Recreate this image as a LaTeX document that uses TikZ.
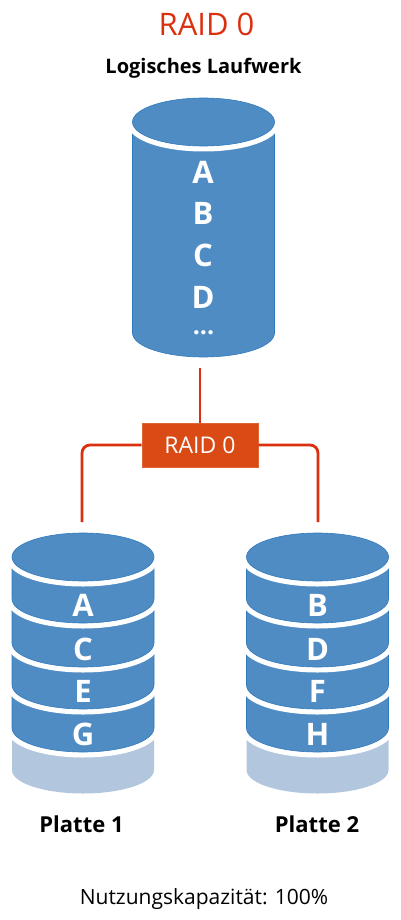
\documentclass[tikz,border=0pt]{standalone}
\usepackage{fontspec}
\setmainfont{Open Sans}
\usetikzlibrary{positioning}
\definecolor{drumblue}{HTML}{4F8CC4}
\definecolor{drumedge}{HTML}{2F7ABD}
\definecolor{sparegray}{HTML}{B2C7DE}
\definecolor{raidred}{HTML}{DB3010}
\definecolor{raidbox}{HTML}{D94A14}
\tikzset{
  drumseg/.style={
    fill=drumblue,
    draw=drumedge,
    line width=0.6pt,
    preaction={draw=white,line width=11pt}
  },
  sparebase/.style={
    fill=sparegray
  },
  drumletter/.style={
    text=white,
    inner sep=0pt,
    font=\fontsize{31}{31}\selectfont\bfseries
  },
  raidbox/.style={
    fill=raidbox,
    draw=raidbox!85!white,
    line width=0.6pt,
    minimum width=116pt,
    minimum height=44pt,
    inner sep=0pt,
    text=white,
    font=\fontsize{23}{23}\selectfont
  },
  raidline/.style={
    draw=raidred,
    line width=2.8pt,
    rounded corners=8pt
  },
  drumlabel/.style={
    inner sep=0pt,
    font=\fontsize{22}{22}\selectfont\bfseries
  }
}
% one band of a drum: centre x, y of the upper side end, y of the lower side end
\newcommand{\drumband}[3]{
  \path[drumseg] (#1-71,#2) -- (#1-71,#3) arc[start angle=180,end angle=0,x radius=71,y radius=24] -- (#1+71,#2) -- cycle;
}
% lid of a drum: centre x, centre y
\newcommand{\drumlid}[2]{
  \path[drumseg] (#1,#2) ellipse[x radius=71,y radius=24];
}
% full four band disk with its grey rest
\newcommand{\fourdrum}[1]{
  \path[sparebase] (#1-71,725) -- (#1-71,770) arc[start angle=180,end angle=0,x radius=71,y radius=23.5] -- (#1+71,725) -- cycle;
  \drumband{#1}{680}{728}
  \drumband{#1}{640}{685}
  \drumband{#1}{600}{643}
  \drumband{#1}{557}{599}
  \drumlid{#1}{557}
}

\begin{document}
\begin{tikzpicture}[x=1pt,y=-1pt]
  \useasboundingbox (0,0) rectangle (400,920);
  \node[inner sep=0pt,text=raidred,font=\fontsize{31}{31}\selectfont] (title) at (206.5,24) {RAID 0};
  \node[drumlabel,font=\fontsize{20}{20}\selectfont\bfseries] (logical) at (203.5,68) {Logisches Laufwerk};

  \drumband{203.5}{122}{333}
  \drumlid{203.5}{122}
  \node[drumletter] (la) at (203,172) {A};
  \node[drumletter] (lb) at (203,213) {B};
  \node[drumletter] (lc) at (203,255) {C};
  \node[drumletter] (ld) at (203,297) {D};
  \node[drumletter,font=\fontsize{25}{25}\selectfont\bfseries] (ldots) at (203.5,333) {...};

  \node[raidbox] (raid) at (200,445) {RAID 0};
  \coordinate (logicalend) at (200,368);
  \coordinate (disk1end) at (82,522);
  \coordinate (disk2end) at (318,522);
  \draw[raidline] (logicalend) -- (raid.north);
  \draw[raidline] (raid.west) -| (disk1end);
  \draw[raidline] (raid.east) -| (disk2end);

  \fourdrum{83}
  \node[drumletter] (a) at (83,605) {A};
  \node[drumletter] (c) at (83,649) {C};
  \node[drumletter] (e) at (83,691) {E};
  \node[drumletter] (g) at (83,734) {G};

  \fourdrum{317.5}
  \node[drumletter] (b) at (317.5,605) {B};
  \node[drumletter] (d) at (317.5,649) {D};
  \node[drumletter] (f) at (317.5,691) {F};
  \node[drumletter] (h) at (317.5,734) {H};

  \node[drumlabel] (disk1) at (81.5,824) {Platte 1};
  \node[drumlabel] (disk2) at (317,824) {Platte 2};
  \node[inner sep=0pt,font=\fontsize{21}{21}\selectfont] (capacity) at (204,899) {Nutzungskapazität: 100\%};
\end{tikzpicture}
\end{document}
